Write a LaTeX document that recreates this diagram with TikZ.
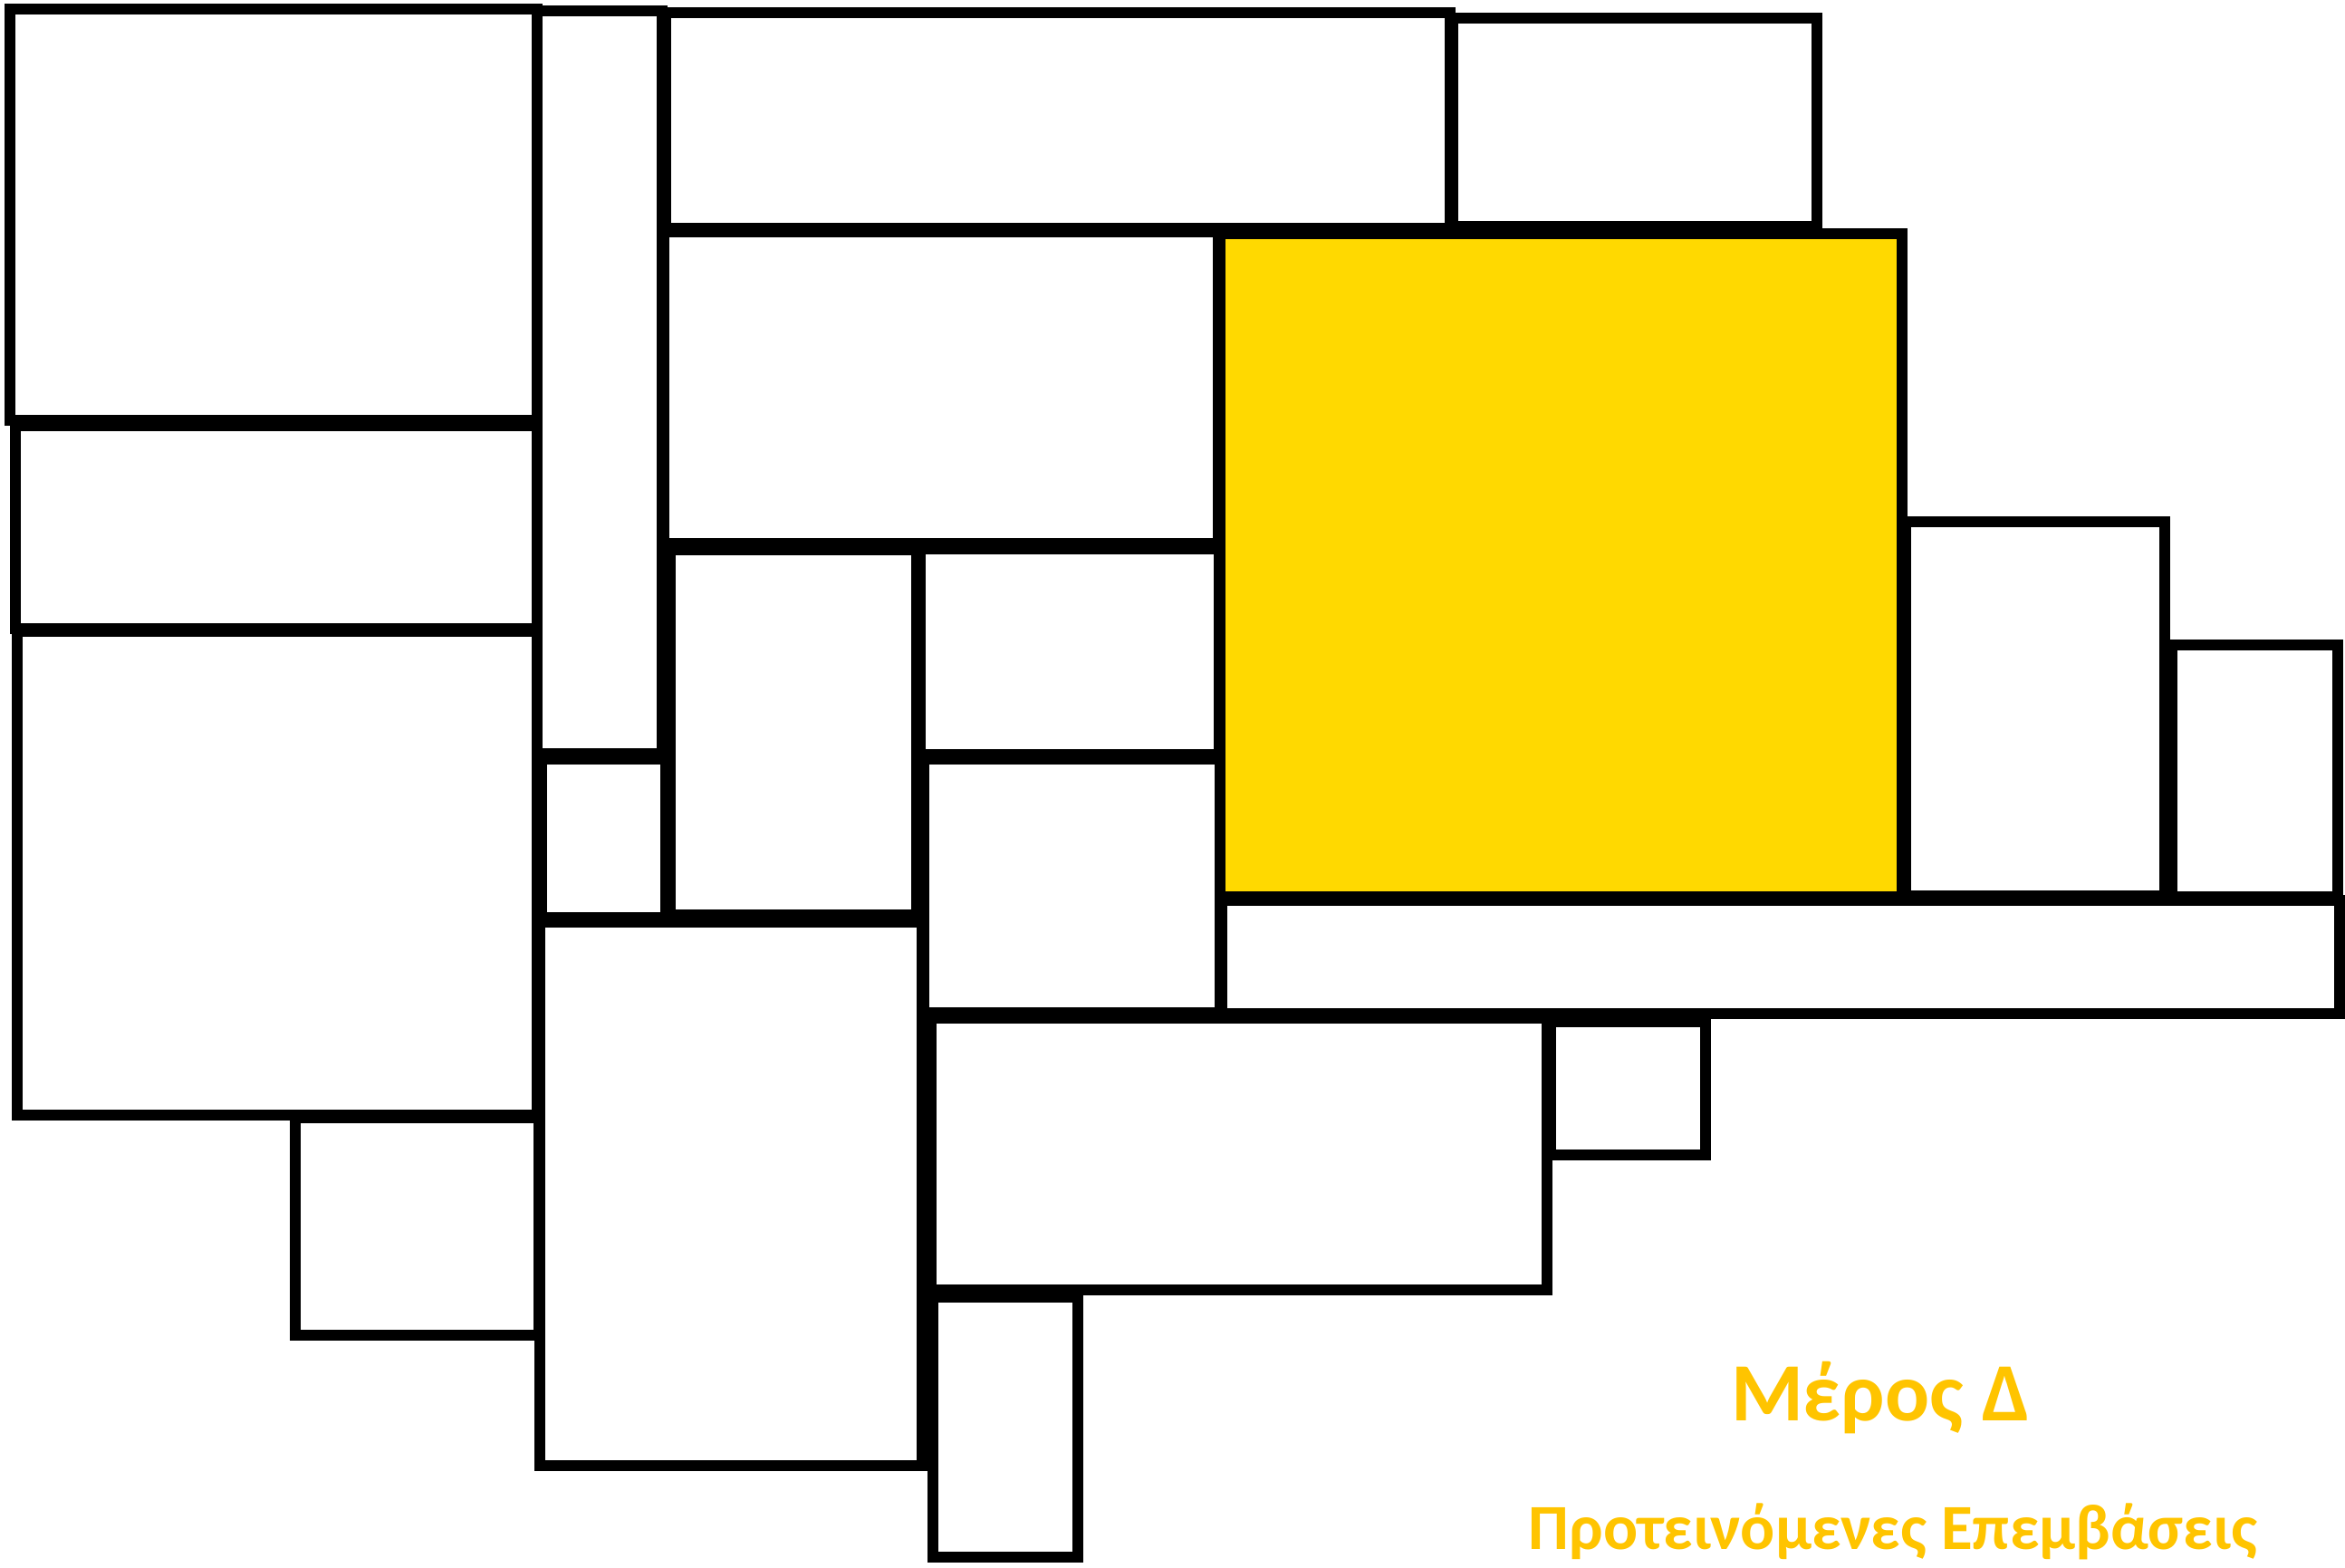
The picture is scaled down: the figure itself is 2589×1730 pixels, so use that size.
\documentclass[tikz,border=0pt]{standalone}
\usepackage{fontspec}
\setmainfont{Carlito}
\usepackage{xcolor}
\usepackage{tikz}
\definecolor{merosgold}{RGB}{255,196,0}
\definecolor{merosyellow}{RGB}{255,217,0}
\tikzset{
  merospicture/.style={x=0.01cm, y=-0.01cm},
  meroswall/.style={draw=black, line width=0.12cm, line join=miter, fill=white},
  merosfilled/.style={meroswall, fill=merosyellow},
  merostitle/.style={anchor=base, text=merosgold, inner sep=0pt, font=\bfseries\fontsize{26}{31}\selectfont},
  merossub/.style={anchor=base, text=merosgold, inner sep=0pt, font=\bfseries\fontsize{20.2}{24}\selectfont}
}
\begin{document}
\begin{tikzpicture}[merospicture]
\useasboundingbox (0,0) rectangle (2589,1730);
% left column
\draw[meroswall] (11,10) rectangle (593,464);
\draw[meroswall] (17,470) rectangle (593,694);
\draw[meroswall] (19,697) rectangle (593,1231);
\draw[meroswall] (326,1234) rectangle (595,1474);
% narrow column
\draw[meroswall] (593,12) rectangle (731,832);
\draw[meroswall] (598,838) rectangle (735,1013);
\draw[meroswall] (596,1018) rectangle (1018,1618);
% top row
\draw[meroswall] (735,14) rectangle (1601,252);
\draw[meroswall] (1604,20) rectangle (2006,250);
% middle block
\draw[meroswall] (733,256) rectangle (1345,600);
\draw[meroswall] (740,607) rectangle (1012,1010);
\draw[meroswall] (1016,606) rectangle (1346,833);
\draw[meroswall] (1020,838) rectangle (1347,1118);
% highlighted part
\draw[merosfilled] (1347,258) rectangle (2100,990);
% right side
\draw[meroswall] (2104,576) rectangle (2390,989);
\draw[meroswall] (2398,712) rectangle (2581,990);
\draw[meroswall] (1349,994) rectangle (2583,1119);
% bottom
\draw[meroswall] (1028,1124) rectangle (1708,1424);
\draw[meroswall] (1712,1128) rectangle (1883,1275);
\draw[meroswall] (1030,1432) rectangle (1190,1719);
% caption
\node[merostitle] (meros) at (2076,1568) {Μέρος Δ};
\node[merossub] (epemvaseis) at (2090,1710) {Προτεινόμενες Επεμβάσεις};
\end{tikzpicture}
\end{document}
